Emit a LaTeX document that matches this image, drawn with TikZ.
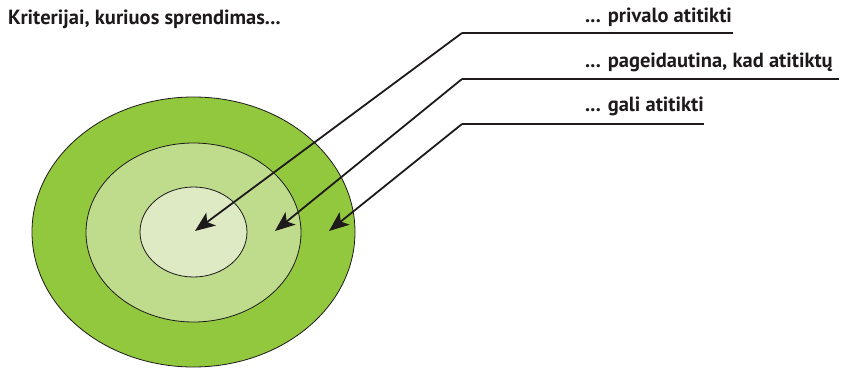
\documentclass[tikz,border=0pt]{standalone}
\usepackage{fontspec}
\setmainfont{PT Sans}[FakeStretch=1.0]
\usetikzlibrary{arrows.meta,shapes.geometric}
\definecolor{outerg}{RGB}{146,200,62}
\definecolor{midg}{RGB}{191,220,141}
\definecolor{innerg}{RGB}{222,234,196}
\definecolor{ink}{RGB}{30,26,27}
\begin{document}
\begin{tikzpicture}[x=1pt,y=-1pt,
  ring/.style={ellipse,draw=ink,line width=0.8pt,inner sep=0pt},
  lbl/.style={anchor=base west,inner sep=0pt,font=\bfseries\fontsize{20.5}{22}\selectfont,text=ink},
  leader/.style={draw=ink,line width=1.3pt},
  pointer/.style={draw=ink,line width=1.8pt,-{Stealth[length=20pt,width=16pt,inset=5pt]}}]
\useasboundingbox (0,0) rectangle (843,369);
\node[ring,fill=outerg,minimum width=323pt,minimum height=270pt] (outer) at (193.5,232) {};
\node[ring,fill=midg,minimum width=215pt,minimum height=179pt] (mid) at (193.5,232.5) {};
\node[ring,fill=innerg,minimum width=107pt,minimum height=90pt] (inner) at (193.5,232) {};
\node[lbl] (title) at (8,25) {Kriterijai, kuriuos sprendimas...};
\node[lbl] (l1) at (585,23) {... privalo atitikti};
\node[lbl] (l2) at (585,67) {... pageidautina, kad atitiktų};
\node[lbl] (l3) at (585,111) {... gali atitikti};
\coordinate (e1) at (733,33);
\coordinate (c1) at (462,33);
\coordinate (e2) at (839,79);
\coordinate (c2) at (462,79);
\coordinate (e3) at (704,124);
\coordinate (c3) at (462,124);
\coordinate (t1) at (195,231);
\coordinate (t2) at (275,231);
\coordinate (t3) at (329,231);
\draw[leader] (e1) -- (c1);
\draw[leader] (e2) -- (c2);
\draw[leader] (e3) -- (c3);
\draw[pointer] (c1) -- (t1);
\draw[pointer] (c2) -- (t2);
\draw[pointer] (c3) -- (t3);
\end{tikzpicture}
\end{document}
